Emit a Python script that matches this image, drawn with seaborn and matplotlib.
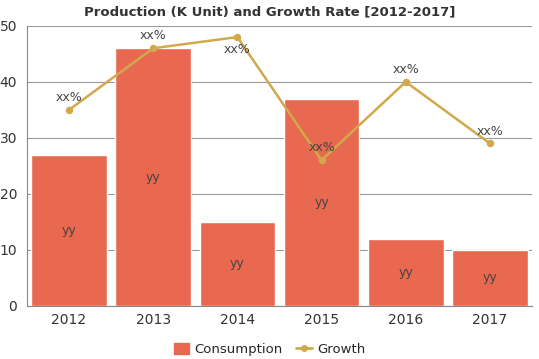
import pandas as pd
import numpy as np
import matplotlib
matplotlib.use("Agg")
import matplotlib.pyplot as plt
import seaborn as sns
from matplotlib.lines import Line2D
from matplotlib.patches import Patch

years = ["2012", "2013", "2014", "2015", "2016", "2017"]
consumption = [27, 46, 15, 37, 12, 10]
growth = [35, 46, 48, 26, 40, 29]
bar_labels = ["yy"] * 6
growth_labels = ["xx%"] * 6

BAR_COLOR = "#E8694F"
LINE_COLOR = "#D1A94B"

df = pd.DataFrame({"year": years, "consumption": consumption, "growth": growth})

sns.set_style("white")
fig = plt.figure(figsize=(5.39, 3.59), dpi=100)
ax = fig.add_axes([0.050, 0.148, 0.937, 0.78])

sns.barplot(data=df, x="year", y="consumption", color=BAR_COLOR, saturation=1,
            width=0.9, ax=ax, zorder=2)
sns.pointplot(data=df, x="year", y="growth", color=LINE_COLOR, ax=ax,
              markers="o", markersize=4, linewidth=1.8, zorder=3)

# labels
for i, v in enumerate(consumption):
    ax.text(i, v / 2, bar_labels[i], ha="center", va="center", fontsize=9, color="#444444", zorder=4)
for i, v in enumerate(growth):
    dy = -2.2 if i == 2 else 2.2
    ax.text(i, v + dy, growth_labels[i], ha="center", va="center", fontsize=9, color="#444444", zorder=4)

ax.set_xlim(-0.5, 5.5)
ax.set_ylim(0, 50)
ax.set_yticks([0, 10, 20, 30, 40, 50])
ax.yaxis.grid(True, color="#999999", linewidth=0.8, zorder=0)
ax.set_axisbelow(True)
ax.set_xlabel("")
ax.set_ylabel("")
for s in ["top", "right"]:
    ax.spines[s].set_visible(False)
ax.spines["left"].set_color("#888888")
ax.spines["bottom"].set_color("#888888")
ax.tick_params(axis="y", length=5, color="#888888", labelsize=10, labelcolor="#333333", pad=2)
ax.tick_params(axis="x", length=0, labelsize=10, labelcolor="#333333", pad=5)

fig.suptitle("Production (K Unit) and Growth Rate [2012-2017]", y=0.985, fontsize=9.5,
             fontweight="bold", color="#333333", family="DejaVu Sans")

handles = [Patch(color=BAR_COLOR, label="Consumption"),
           Line2D([0], [0], color=LINE_COLOR, marker="o", markersize=4, linewidth=2, label="Growth")]
fig.legend(handles=handles, loc="lower center", bbox_to_anchor=(0.5, -0.025), ncol=2,
           frameon=False, fontsize=9.5, handlelength=1.2, handleheight=1.0, columnspacing=1.0,
           handletextpad=0.4)

fig.savefig("out.png", dpi=100)
